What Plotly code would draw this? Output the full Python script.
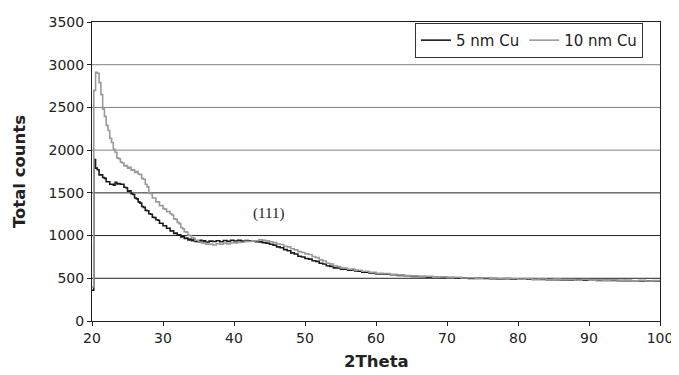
import plotly.graph_objects as go

# sampling positions (2Theta, degrees)
x_fine = [20 + 0.25 * i for i in range(65)]          # 20.0 .. 36.0
x_mid = [36.5 + 0.5 * i for i in range(48)]          # 36.5 .. 60.0
x_coarse = [61 + i for i in range(40)]               # 61 .. 100
two_theta = x_fine + x_mid + x_coarse

counts_5nm = [
    360, 1890, 1790, 1770, 1710, 1710, 1680, 1670, 1630, 1630, 1600, 1600, 1590, 1625, 1605,
    1610, 1600, 1600, 1565, 1560, 1520, 1525, 1490, 1480, 1440, 1430, 1395, 1380, 1340, 1330,
    1295, 1290, 1255, 1250, 1215, 1210, 1185, 1180, 1145, 1145, 1115, 1115, 1085, 1085, 1055,
    1055, 1025, 1030, 1005, 1010, 985, 990, 965, 970, 950, 960, 940, 950, 930, 940,
    925, 945, 930, 940, 925,
    935, 930, 940, 928, 942, 932, 945, 936, 944, 935,
    942, 938, 936, 928, 926, 918, 912, 898, 888, 868,
    858, 836, 822, 798, 784, 758, 750, 732, 724, 706,
    698, 676, 668, 646, 640, 622, 620, 606, 606, 596,
    598, 586, 584, 572, 572, 562, 562, 552,
    548, 542, 534, 530, 522, 520, 514, 513, 509, 508,
    504, 503, 499, 499, 498, 496, 493, 494, 489, 489,
    488, 486, 485, 484, 483, 481, 480, 479, 478, 477,
    476, 475, 474, 473, 472, 471, 470, 469, 468, 465,
]

counts_10nm = [
    400, 2700, 2910, 2900, 2790, 2650, 2480, 2395, 2290, 2230, 2140, 2090, 2010, 1975, 1910,
    1900, 1860, 1850, 1815, 1820, 1790, 1800, 1765, 1770, 1740, 1750, 1720, 1715, 1670, 1660,
    1600, 1570, 1495, 1490, 1440, 1440, 1395, 1395, 1350, 1350, 1315, 1310, 1280, 1280, 1255,
    1240, 1195, 1190, 1155, 1140, 1095, 1080, 1045, 1040, 1005, 1000, 975, 970, 945, 945,
    925, 925, 910, 915, 900,
    900, 890, 905, 898, 912, 902, 918, 915, 920, 922,
    932, 930, 938, 940, 950, 945, 938, 928, 918, 902,
    895, 875, 868, 846, 832, 812, 802, 786, 778, 755,
    742, 716, 702, 676, 668, 646, 638, 622, 620, 606,
    608, 596, 594, 582, 582, 570, 570, 558,
    555, 548, 540, 532, 528, 520, 522, 514, 516, 508,
    512, 504, 507, 500, 506, 499, 496, 502, 494, 490,
    496, 489, 492, 484, 490, 484, 486, 479, 486, 479,
    481, 476, 481, 474, 478, 471, 476, 469, 473, 467,
]

x_ticks = [20, 30, 40, 50, 60, 70, 80, 90, 100]
y_ticks = [0, 500, 1000, 1500, 2000, 2500, 3000, 3500]
grid_dark = [500, 1000, 1500]
grid_light = [2000, 2500, 3000]

FONT = "DejaVu Sans"

fig = go.Figure()
fig.add_trace(go.Scatter(x=two_theta, y=counts_5nm, mode="lines", name="5 nm Cu",
                         line=dict(color="#1a1a1a", width=1.6, shape="hv")))
fig.add_trace(go.Scatter(x=two_theta, y=counts_10nm, mode="lines", name="10 nm Cu",
                         line=dict(color="#9a9a9a", width=1.6, shape="hv")))

for v in grid_dark:
    fig.add_shape(type="line", xref="paper", x0=0, x1=1, yref="y", y0=v, y1=v,
                  line=dict(color="#222222", width=1), layer="below")
for v in grid_light:
    fig.add_shape(type="line", xref="paper", x0=0, x1=1, yref="y", y0=v, y1=v,
                  line=dict(color="#808080", width=1), layer="below")

fig.add_annotation(x=44.8, y=1264, text="(111)", showarrow=False,
                   font=dict(family="Liberation Serif", size=15, color="#222"))

# x-axis title placed as paper annotation below the tick labels
fig.add_annotation(x=0.5, y=-0.135, xref="paper", yref="paper", xanchor="center",
                   yanchor="middle", text="<b>2Theta</b>", showarrow=False,
                   font=dict(family=FONT, size=16.5, color="#222"))

fig.update_layout(
    width=671, height=367,
    margin=dict(l=84, r=19, t=14, b=54),
    paper_bgcolor="white", plot_bgcolor="white",
    font=dict(family=FONT, size=14, color="#222"),
    showlegend=True,
    legend=dict(orientation="h", x=0.970, xanchor="right", y=0.997, yanchor="top",
                bordercolor="#333", borderwidth=1, bgcolor="white",
                font=dict(family=FONT, size=15), itemwidth=30, tracegroupgap=0),
    xaxis=dict(range=[20, 100], tickvals=x_ticks, showgrid=False, zeroline=False,
               showline=True, linecolor="#222", linewidth=1, mirror=True,
               ticks="outside", ticklen=4, tickcolor="#222", automargin=False,
               ticklabeloverflow="allow"),
    yaxis=dict(range=[0, 3500], tickvals=y_ticks, showgrid=False, zeroline=False,
               showline=True, linecolor="#222", linewidth=1, mirror=True,
               ticks="outside", ticklen=4, tickcolor="#222", automargin=False,
               title=dict(text="<b>Total counts</b>", font=dict(family=FONT, size=16.5), standoff=18)),
)

fig.write_html("out.html")
